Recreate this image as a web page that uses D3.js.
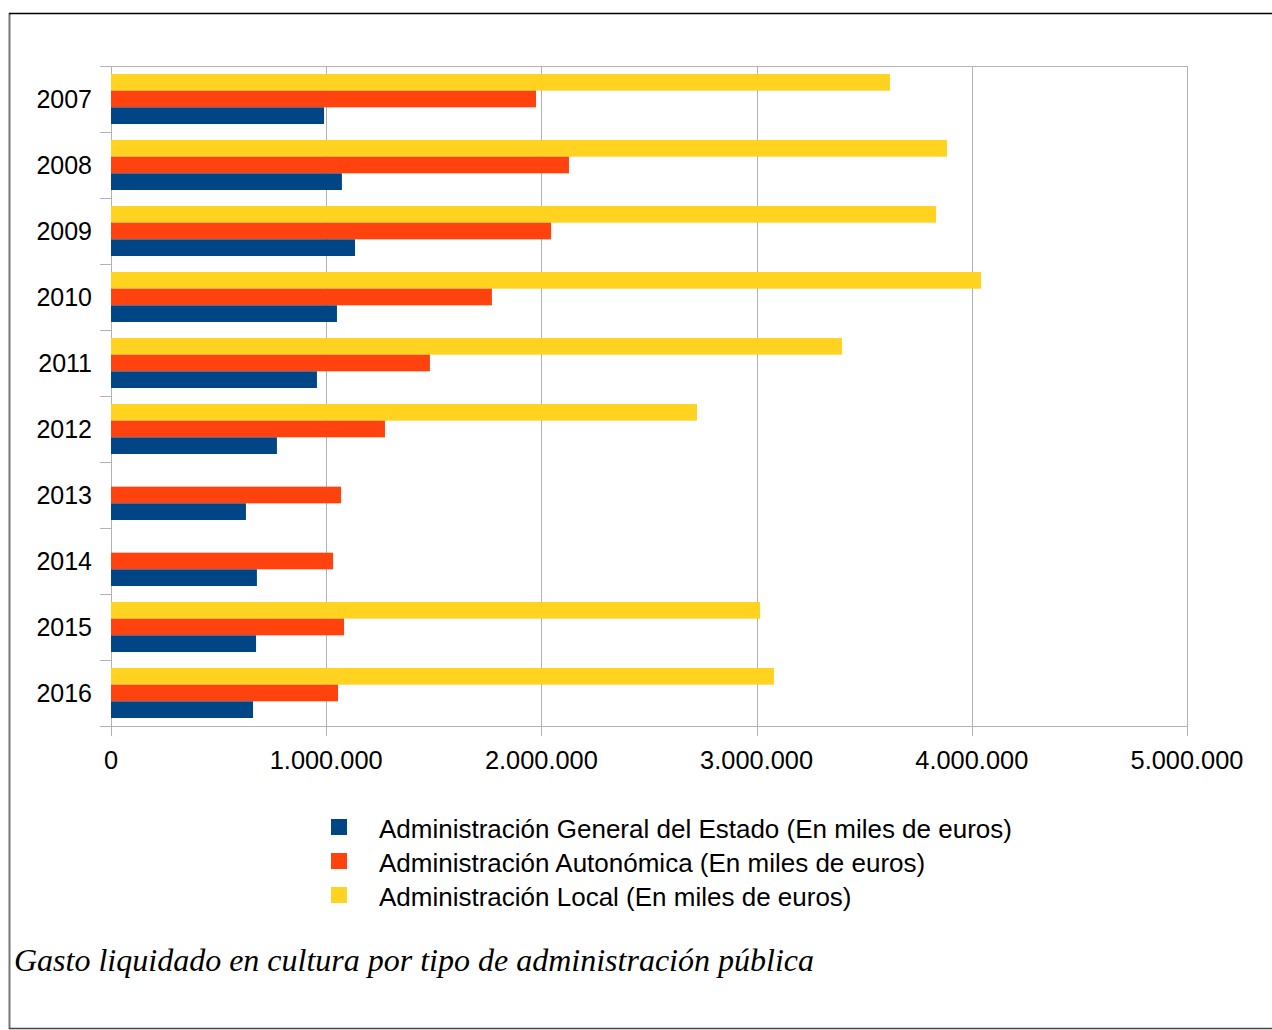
<!DOCTYPE html>
<html>
<head>
<meta charset="utf-8">
<script src="https://cdn.jsdelivr.net/npm/d3@7"></script>
<style>
  html, body { margin: 0; padding: 0; background: #fff; }
  svg { display: block; }
</style>
</head>
<body>
<script>
// Gasto liquidado en cultura (miles de euros) por tipo de administración
const years = ["2007","2008","2009","2010","2011","2012","2013","2014","2015","2016"];
const estado = [990000, 1073000, 1134000, 1050000, 957000, 771000, 627000, 678000, 674000, 660000];
const autonomica = [1975000, 2128000, 2045000, 1770000, 1482000, 1273000, 1069000, 1032000, 1083000, 1055000];
const local = [3620000, 3885000, 3834000, 4043000, 3397000, 2723000, null, null, 3016000, 3081000];
const xTicks = [0, 1000000, 2000000, 3000000, 4000000, 5000000];

const seriesNames = [
  "Administración General del Estado (En miles de euros)",
  "Administración Autonómica (En miles de euros)",
  "Administración Local (En miles de euros)"
];
const seriesValues = [estado, autonomica, local];
const colors = ["#004586", "#ff420e", "#ffd320"];
// bars drawn top-to-bottom inside each year: Local, Autonómica, Estado
const barOrder = [2, 1, 0];

const W = 1272, H = 1030;
const svg = d3.select("body").append("svg").attr("width", W).attr("height", H);
const font = "'Liberation Sans', Arial, sans-serif";

// outer frame
svg.append("line").attr("x1", 9.5).attr("x2", 9.5).attr("y1", 13).attr("y2", 1029)
  .attr("stroke", "#777").attr("stroke-width", 2);
svg.append("line").attr("x1", 9).attr("x2", W).attr("y1", 13.5).attr("y2", 13.5)
  .attr("stroke", "#000").attr("stroke-width", 1.5);
svg.append("line").attr("x1", 9).attr("x2", W).attr("y1", 1028.5).attr("y2", 1028.5)
  .attr("stroke", "#444").attr("stroke-width", 1.5);

const plotLeft = 111, plotRight = 1187, plotTop = 66, plotBottom = 726;
const x = d3.scaleLinear().domain([0, 5000000]).range([plotLeft, plotRight]);
const y0 = d3.scaleBand().domain(years).range([plotTop, plotBottom]).padding(0);
const y1 = d3.scaleBand().domain(barOrder.map(String)).range([8, y0.bandwidth() - 8]).padding(0);

// grid
const g = svg.append("g");
g.selectAll("line.grid").data(xTicks).join("line")
  .attr("x1", d => Math.round(x(d)) + 0.5).attr("x2", d => Math.round(x(d)) + 0.5)
  .attr("y1", plotTop).attr("y2", plotBottom + 10)
  .attr("stroke", "#b3b3b3").attr("stroke-width", 1);
g.append("line").attr("x1", plotLeft).attr("x2", plotRight).attr("y1", plotTop + 0.5).attr("y2", plotTop + 0.5)
  .attr("stroke", "#b3b3b3");
g.append("line").attr("x1", plotLeft).attr("x2", plotRight).attr("y1", plotBottom + 0.5).attr("y2", plotBottom + 0.5)
  .attr("stroke", "#b3b3b3");

// category ticks on the left axis
const boundaries = years.map(d => y0(d)).concat([plotBottom]);
g.selectAll("line.ytick").data(boundaries).join("line")
  .attr("x1", plotLeft - 11).attr("x2", plotLeft)
  .attr("y1", d => Math.round(d) + 0.5).attr("y2", d => Math.round(d) + 0.5)
  .attr("stroke", "#b3b3b3");

// bars
const groups = svg.append("g").selectAll("g").data(years).join("g")
  .attr("transform", d => `translate(0,${y0(d)})`);
groups.selectAll("rect").data((d, i) => barOrder.map(s => ({ s, v: seriesValues[s][i] })).filter(o => o.v != null))
  .join("rect")
  .attr("x", x(0))
  .attr("y", o => y1(String(o.s)))
  .attr("width", o => x(o.v) - x(0))
  .attr("height", y1.bandwidth())
  .attr("fill", o => colors[o.s]);

// left axis line
g.append("line").attr("x1", plotLeft + 0.5).attr("x2", plotLeft + 0.5).attr("y1", plotTop).attr("y2", plotBottom + 10)
  .attr("stroke", "#b3b3b3");

// year labels
svg.append("g").selectAll("text").data(years).join("text")
  .attr("x", 92).attr("y", d => y0(d) + y0.bandwidth() / 2 + 9)
  .attr("text-anchor", "end")
  .attr("font-family", font).attr("font-size", 25).attr("fill", "#000")
  .text(d => d);

// x tick labels
const fmt = d3.formatLocale({ decimal: ",", thousands: ".", grouping: [3], currency: ["", "€"] }).format(",d");
svg.append("g").selectAll("text").data(xTicks).join("text")
  .attr("x", d => x(d)).attr("y", 769)
  .attr("text-anchor", "middle")
  .attr("font-family", font).attr("font-size", 25.4).attr("fill", "#000")
  .text(d => fmt(d));

// legend
const legend = svg.append("g").selectAll("g").data([0, 1, 2]).join("g")
  .attr("transform", (d, i) => `translate(331,${819 + i * 34})`);
legend.append("rect").attr("width", 16).attr("height", 16).attr("fill", d => colors[d]);
legend.append("text").attr("x", 48).attr("y", 18.5)
  .attr("font-family", font).attr("font-size", 26).attr("fill", "#000")
  .text(d => seriesNames[d]);

// caption
svg.append("text").attr("x", 14).attr("y", 971)
  .attr("font-family", "'Liberation Serif', 'Times New Roman', serif")
  .attr("font-style", "italic").attr("font-size", 32).attr("fill", "#000")
  .text("Gasto liquidado en cultura por tipo de administración pública");
</script>
</body>
</html>
